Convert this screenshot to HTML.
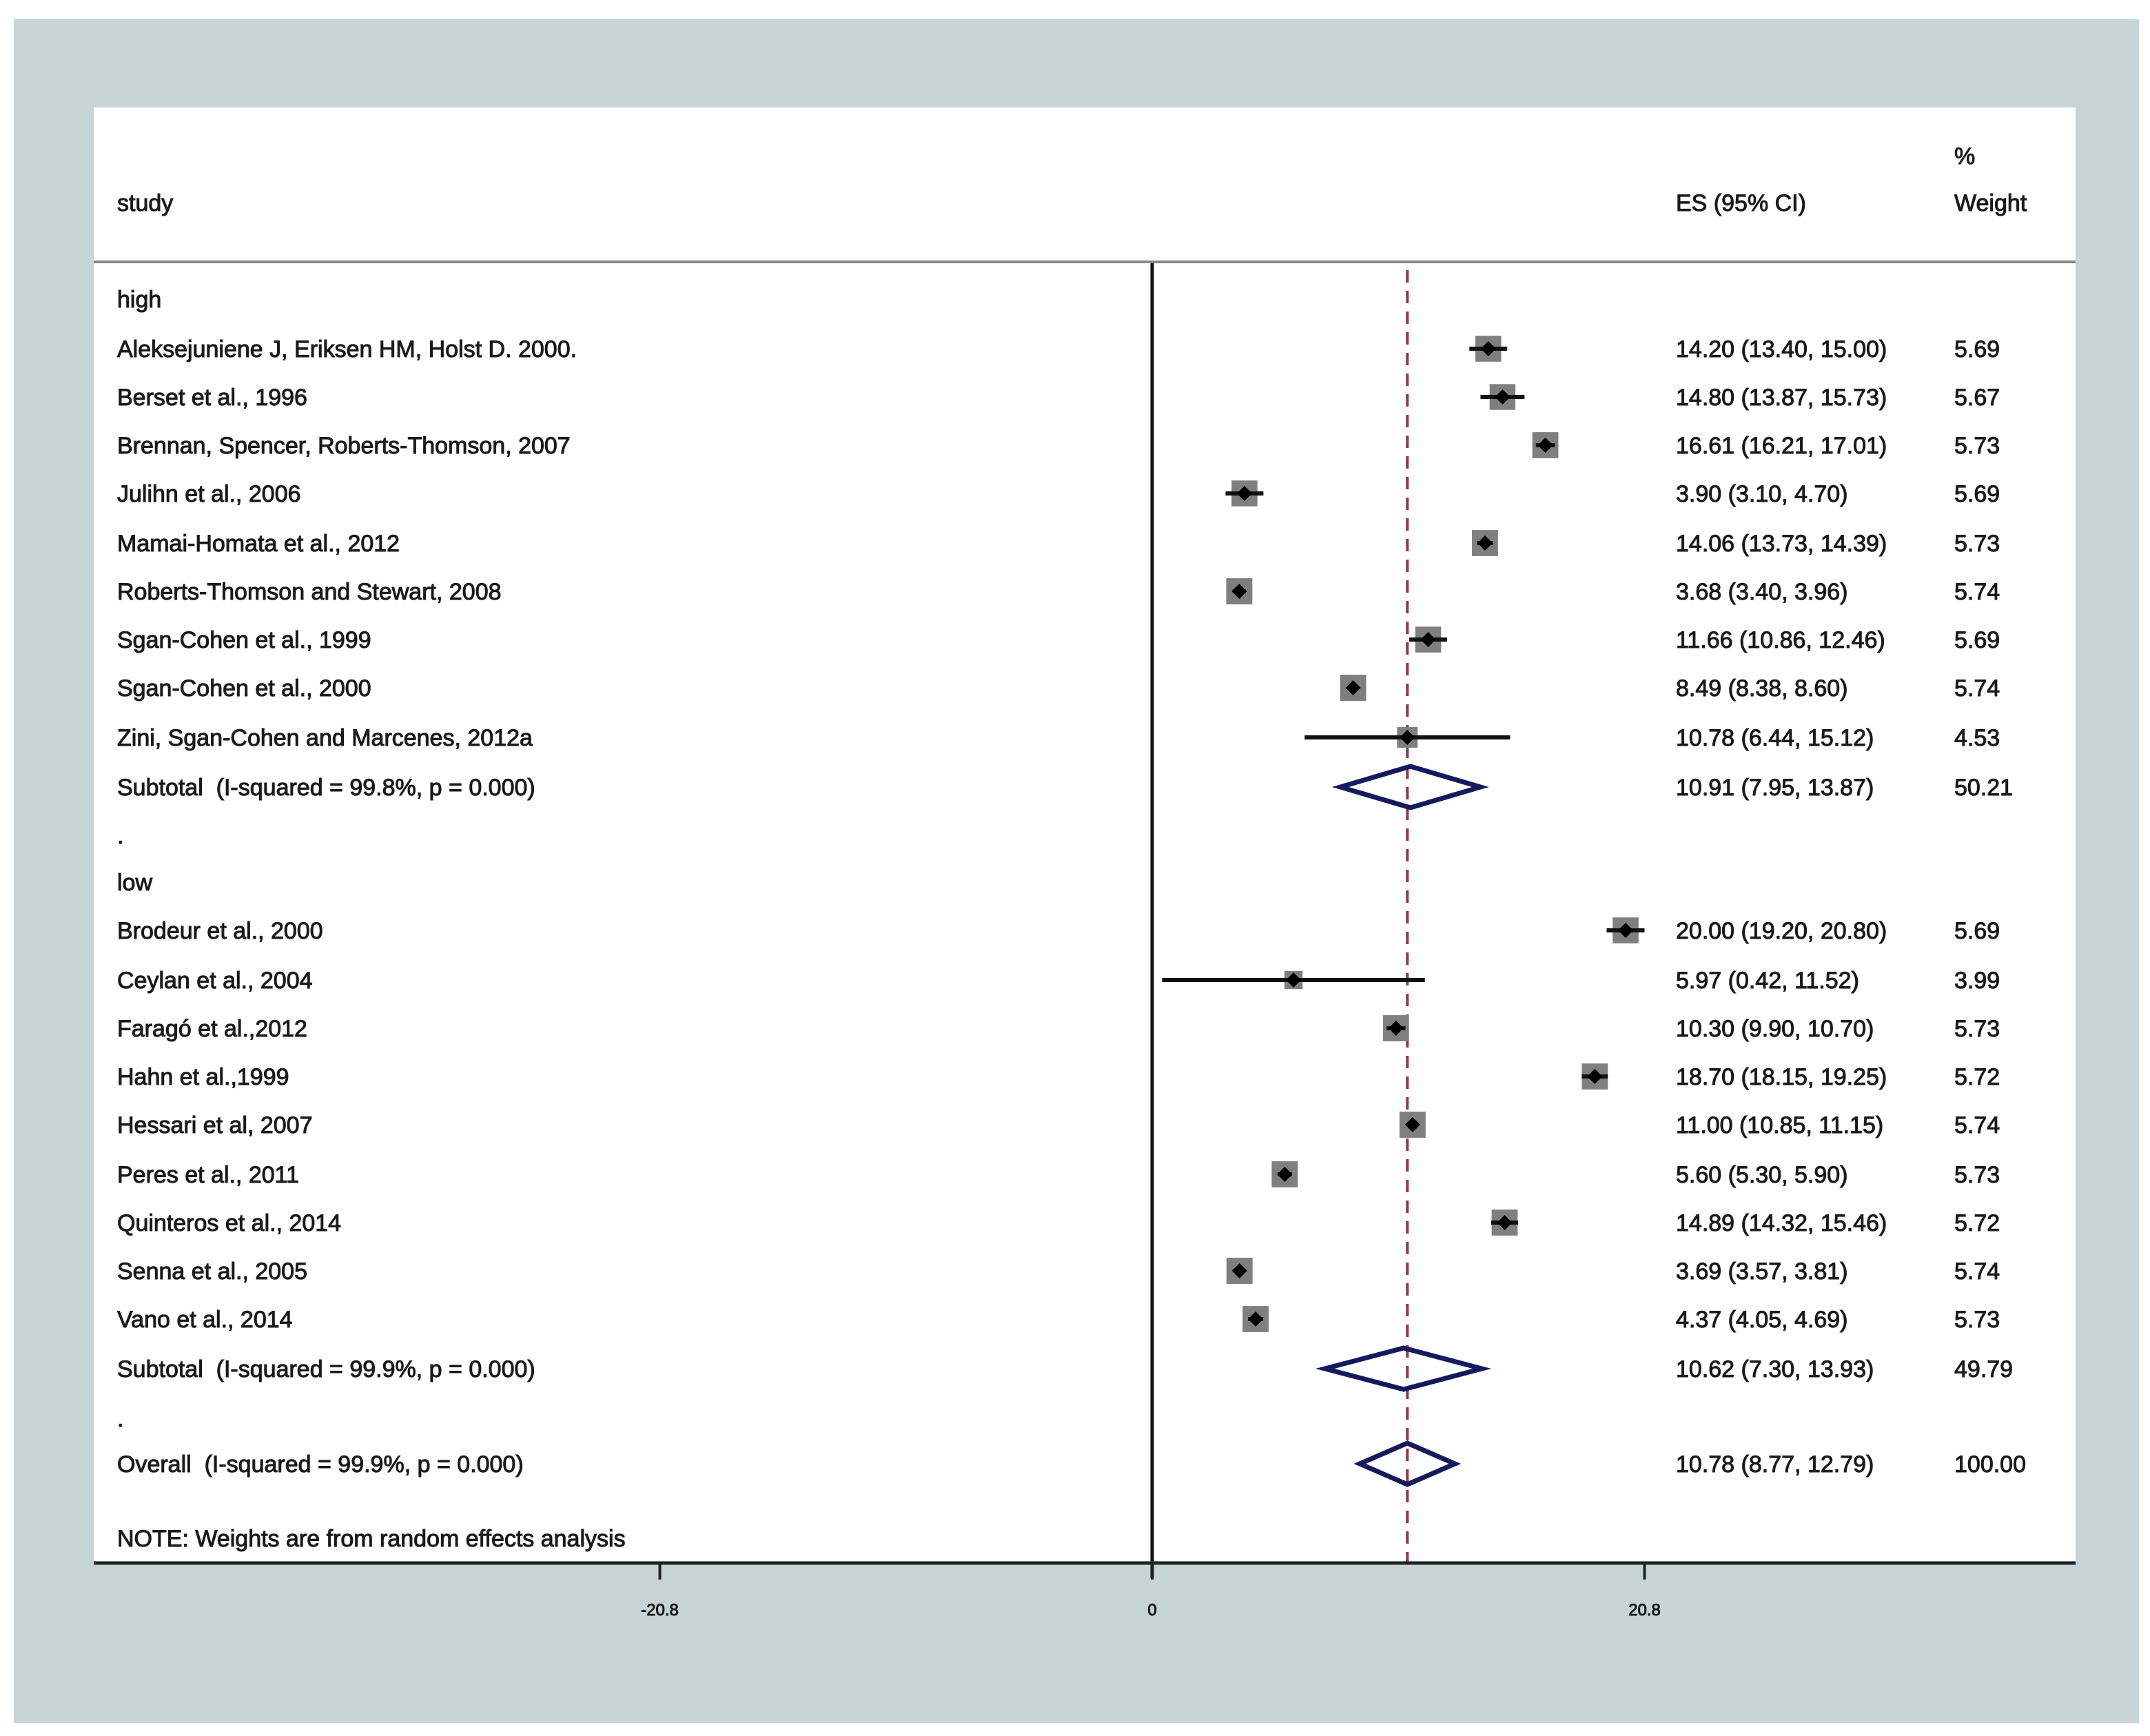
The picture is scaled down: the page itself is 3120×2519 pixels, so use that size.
<!DOCTYPE html>
<html><head><meta charset="utf-8"><style>
body{margin:0;background:#fff}
svg text{font-family:"Liberation Sans",Arial,sans-serif;fill:#1a1a1a;stroke:#1a1a1a;stroke-width:1;white-space:pre}
</style></head><body>
<svg width="3120" height="2514" viewBox="0 0 3120 2514" xmlns="http://www.w3.org/2000/svg">
<rect x="20" y="28" width="3084" height="2472" fill="#c6d4d8"/>
<rect x="136" y="156" width="2876" height="2112" fill="#ffffff"/>
<line x1="136" y1="380" x2="3012" y2="380" stroke="#888" stroke-width="4"/>
<text x="2836" y="238" font-size="34">%</text>
<text x="170" y="306" font-size="34">study</text>
<text x="2432" y="306" font-size="34">ES (95% CI)</text>
<text x="2836" y="306" font-size="34">Weight</text>
<g id="plot"></g>
</svg>
<script>
const labels=["high","Aleksejuniene J, Eriksen HM, Holst D. 2000.","Berset et al., 1996","Brennan, Spencer, Roberts-Thomson, 2007","Julihn et al., 2006","Mamai-Homata et al., 2012","Roberts-Thomson and Stewart, 2008","Sgan-Cohen et al., 1999","Sgan-Cohen et al., 2000","Zini, Sgan-Cohen and Marcenes, 2012a","Subtotal  (I-squared = 99.8%, p = 0.000)",".","low","Brodeur et al., 2000","Ceylan et al., 2004","Faragó et al.,2012","Hahn et al.,1999","Hessari et al, 2007","Peres et al., 2011","Quinteros et al., 2014","Senna et al., 2005","Vano et al., 2014","Subtotal  (I-squared = 99.9%, p = 0.000)",".","Overall  (I-squared = 99.9%, p = 0.000)"];
const rowY=[434,506,576,646,716,788,858,928,998,1070,1142,1212,1280,1350,1422,1492,1562,1632,1704,1774,1844,1914,1986,2058,2124];
const kinds=["h","s","s","s","s","s","s","s","s","s","d","b","h","s","s","s","s","s","s","s","s","s","d","b","d"];
const es=[null,14.20,14.80,16.61,3.90,14.06,3.68,11.66,8.49,10.78,10.91,null,null,20.00,5.97,10.30,18.70,11.00,5.60,14.89,3.69,4.37,10.62,null,10.78];
const lo=[null,13.40,13.87,16.21,3.10,13.73,3.40,10.86,8.38,6.44,7.95,null,null,19.20,0.42,9.90,18.15,10.85,5.30,14.32,3.57,4.05,7.30,null,8.77];
const hi=[null,15.00,15.73,17.01,4.70,14.39,3.96,12.46,8.60,15.12,13.87,null,null,20.80,11.52,10.70,19.25,11.15,5.90,15.46,3.81,4.69,13.93,null,12.79];
const weights=[null,5.69,5.67,5.73,5.69,5.73,5.74,5.69,5.74,4.53,50.21,null,null,5.69,3.99,5.73,5.72,5.74,5.73,5.72,5.74,5.73,49.79,null,100.00];
const ticks=[-20.8,0,20.8];
const tickLabels=["-20.8","0","20.8"];
const overallES=10.78;
const NS="http://www.w3.org/2000/svg";
const g=document.getElementById('plot');
const X=v=>1672+v*34.35;
function mk(t,a,p){const e=document.createElementNS(NS,t);for(const k in a)e.setAttribute(k,a[k]);(p||g).appendChild(e);return e;}
let zl=mk('line',{x1:X(0),y1:382,x2:X(0),y2:2290,stroke:'#111','stroke-width':5});


let ol=mk('line',{x1:X(overallES),y1:392,x2:X(overallES),y2:2266,stroke:'#8a3a4a','stroke-width':4,'stroke-dasharray':'18 12'});


let ax=mk('line',{x1:136,y1:2268,x2:3012,y2:2268,stroke:'#222','stroke-width':5});


ticks.forEach((t,i)=>{
 let tk=mk('line',{x1:X(t),y1:2268,x2:X(t),y2:2292,stroke:'#222','stroke-width':4});
 
 
 let tl=mk('text',{x:X(t),y:2344,'font-size':24,'text-anchor':'middle'});
 tl.textContent=tickLabels[i];
 
 
});
labels.forEach((l,i)=>{
 const y=rowY[i];
 let t=mk('text',{x:170,y:y+12,'font-size':34});
 t.textContent=l;
 
 
 if(es[i]==null)return;
 let e=mk('text',{x:2432,y:y+12,'font-size':34});
 e.textContent=es[i].toFixed(2)+" ("+lo[i].toFixed(2)+", "+hi[i].toFixed(2)+")";
 
 
 let w=mk('text',{x:2836,y:y+12,'font-size':34});
 w.textContent=weights[i].toFixed(2);
 
 
 if(kinds[i]=="s"){
  const s=weights[i]*6.6;
  let sq=mk('rect',{x:X(es[i])-s/2,y:y-s/2,width:s,height:s,fill:'#7f7f7f'});
  
  
  let ci=mk('line',{x1:X(lo[i]),y1:y,x2:X(hi[i]),y2:y,stroke:'#111','stroke-width':6});
  
  
  let d=mk('path',{d:`M${X(es[i])-11},${y} L${X(es[i])},${y-11} L${X(es[i])+11},${y} L${X(es[i])},${y+11}Z`,fill:'#000'});
  
  
 } else {
  const h=30;
  let dm=mk('path',{d:`M${X(lo[i])},${y} L${X(es[i])},${y-h} L${X(hi[i])},${y} L${X(es[i])},${y+h}Z`,fill:'none',stroke:'#141a5c','stroke-width':7});
  
  
 }
});
let n=mk('text',{x:170,y:2244,'font-size':34});
n.textContent="NOTE: Weights are from random effects analysis";


</script>
</body></html>
